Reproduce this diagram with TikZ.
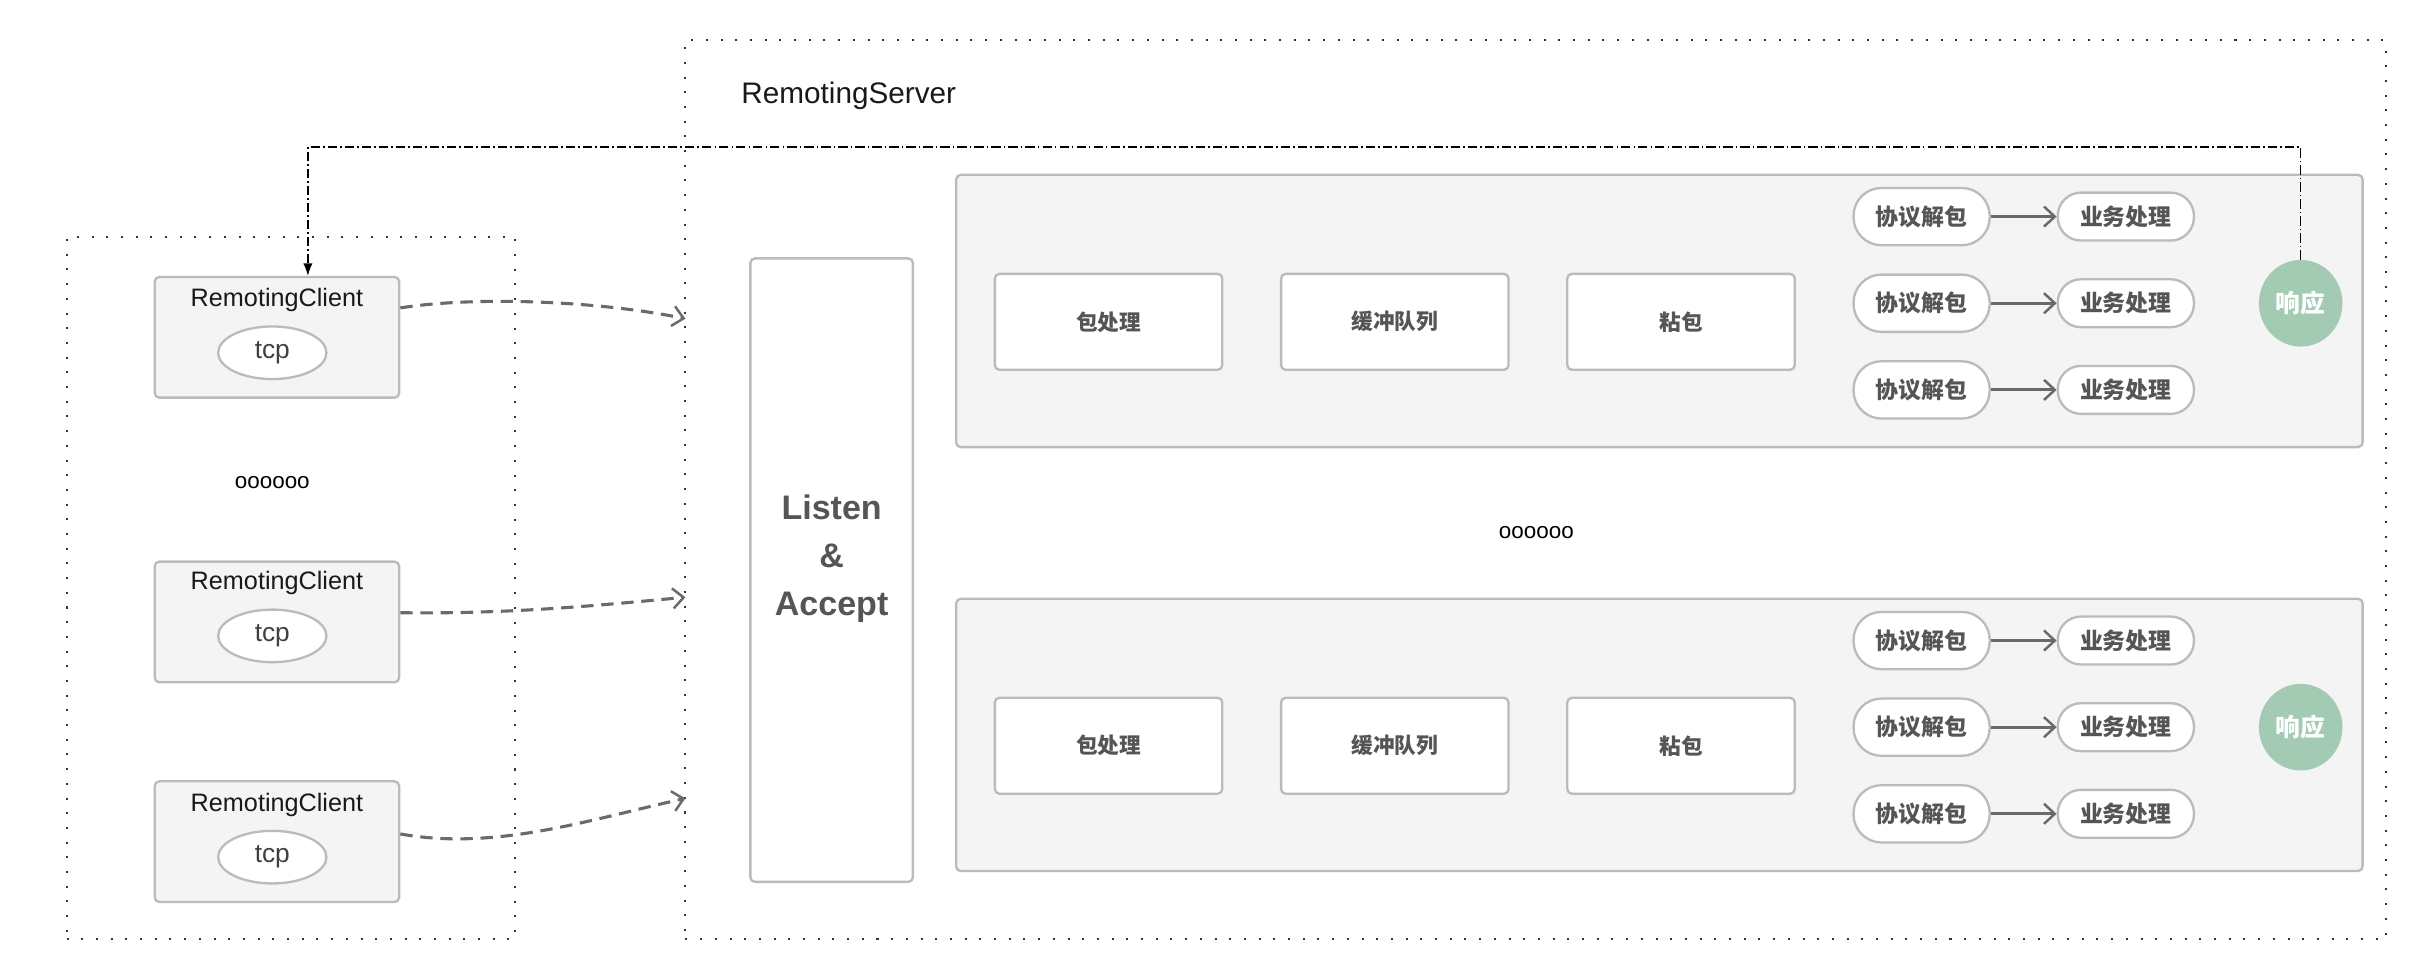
\documentclass[tikz,border=0pt]{standalone}
\usepackage{fontspec}
\setmainfont{Liberation Sans}
\newfontfamily\cjk{Noto Sans CJK SC}
\usetikzlibrary{arrows.meta,shapes.geometric,calc}
\definecolor{bordergray}{HTML}{BBBBBB}
\definecolor{panelgray}{HTML}{F4F4F4}
\definecolor{txtgray}{HTML}{555555}
\definecolor{arrowgray}{HTML}{6A6A6A}
\definecolor{respgreen}{HTML}{A3CBB3}
\definecolor{dotgray}{HTML}{333333}
\tikzset{
  dotbox/.style={draw=dotgray, line width=1.3pt, dash pattern=on 1.3pt off 8.2pt},
  clientbox/.style={draw=bordergray, fill=panelgray, line width=1.5pt, rounded corners=3pt, minimum width=158pt, minimum height=78pt},
  tcpell/.style={ellipse, draw=bordergray, fill=white, line width=1.5pt, minimum width=70pt, minimum height=34pt, inner sep=0pt, font=\fontsize{17}{18}\selectfont, text=black!75},
  clienttitle/.style={font=\fontsize{16.3}{18}\selectfont, text=black!90, inner sep=0pt},
  panel/.style={draw=bordergray, fill=panelgray, line width=1.5pt, rounded corners=3pt, minimum width=909pt, minimum height=176pt},
  stagebox/.style={draw=bordergray, fill=white, line width=1.5pt, rounded corners=3pt, minimum width=147pt, minimum height=62pt, font=\cjk\bfseries\fontsize{14}{16}\selectfont, text=txtgray},
  pilla/.style={draw=bordergray, fill=white, line width=1.5pt, rounded corners=18pt, minimum width=88pt, minimum height=37pt, inner sep=0pt, font=\cjk\bfseries\fontsize{14.8}{16}\selectfont, text=txtgray},
  pillb/.style={draw=bordergray, fill=white, line width=1.5pt, rounded corners=15pt, minimum width=88pt, minimum height=31pt, inner sep=0pt, font=\cjk\bfseries\fontsize{14.8}{16}\selectfont, text=txtgray},
  resp/.style={ellipse, fill=respgreen, minimum width=54pt, minimum height=56pt, inner sep=0pt, font=\cjk\bfseries\fontsize{16}{18}\selectfont, text=white},
  connarrow/.style={draw=arrowgray, line width=2pt, dash pattern=on 8pt off 5pt, -{Straight Barb[length=7pt,width=13pt,line width=1.6pt]}},
  innerarrow/.style={draw=arrowgray, line width=2pt, -{Straight Barb[length=7pt,width=13pt,line width=1.6pt]}},
  fbline/.style={draw=black, line width=0.8pt, dash pattern=on 6pt off 2pt on 1pt off 2pt, -{Latex[length=8pt,width=6pt]}},
  dotstext/.style={font=\fontsize{14.5}{16}\selectfont, inner sep=0pt},
}
\begin{document}
\begin{tikzpicture}[x=1pt,y=-1pt]
\useasboundingbox (0,0) rectangle (1568,631);
% outer dotted containers
\node[dotbox, minimum width=290pt, minimum height=454pt, inner sep=0pt] (clients) at (188,380) {};
\node[dotbox, minimum width=1099pt, minimum height=581pt, inner sep=0pt] (server) at (992.5,316.5) {};
\node[anchor=west, font=\fontsize{19.2}{20}\selectfont, inner sep=0pt, text=black!90] (srvtitle) at (479,62) {RemotingServer};

% clients
\node[clientbox] (c1) at (179,218) {};
\node[clientbox] (c2) at (179,402) {};
\node[clientbox] (c3) at (179,544) {};
\node[clienttitle] (c1t) at (179,194) {RemotingClient};
\node[clienttitle] (c2t) at (179,377) {RemotingClient};
\node[clienttitle] (c3t) at (179,520) {RemotingClient};
\node[tcpell] (t1) at (176,228) {tcp};
\node[tcpell] (t2) at (176,411) {tcp};
\node[tcpell] (t3) at (176,554) {tcp};
\node[dotstext] (dots1) at (176,312) {oooooo};

% listen & accept
\node[draw=bordergray, fill=white, line width=1.5pt, rounded corners=3pt, minimum width=105pt, minimum height=403pt] (la) at (537.5,368.5) {};
\node[align=center, font=\bfseries\fontsize{22}{31}\selectfont, text=txtgray] (latext) at (537.5,361) {Listen\\\&\\Accept};

% panels
\node[panel] (p1) at (1072.5,201) {};
\node[panel] (p2) at (1072.5,475) {};
\node[dotstext] (dots2) at (993,344) {oooooo};

% upper panel content
\node[stagebox] (s11) at (716.5,208) {包处理};
\node[stagebox] (s12) at (901.5,208) {缓冲队列};
\node[stagebox] (s13) at (1086.5,208) {粘包};
\node[pilla] (a11) at (1242,140) {协议解包};
\node[pilla] (a12) at (1242,196) {协议解包};
\node[pilla] (a13) at (1242,252) {协议解包};
\node[pillb] (b11) at (1374,140) {业务处理};
\node[pillb] (b12) at (1374,196) {业务处理};
\node[pillb] (b13) at (1374,252) {业务处理};
\node[resp] (r1) at (1487,196) {响应};

% lower panel content
\node[stagebox] (s21) at (716.5,482) {包处理};
\node[stagebox] (s22) at (901.5,482) {缓冲队列};
\node[stagebox] (s23) at (1086.5,482) {粘包};
\node[pilla] (a21) at (1242,414) {协议解包};
\node[pilla] (a22) at (1242,470) {协议解包};
\node[pilla] (a23) at (1242,526) {协议解包};
\node[pillb] (b21) at (1374,414) {业务处理};
\node[pillb] (b22) at (1374,470) {业务处理};
\node[pillb] (b23) at (1374,526) {业务处理};
\node[resp] (r2) at (1487,470) {响应};

% inner arrows
\foreach \i in {11,12,13,21,22,23}{
  \draw[innerarrow] (a\i.east) -- (b\i.west);
}

% client -> server arrows
\coordinate (e1) at (443,206);
\coordinate (e2) at (443,386);
\coordinate (e3) at (443,516);
\draw[connarrow] ([yshift=19pt]c1.east) .. controls (310,191) and (390,195) .. (e1);
\draw[connarrow] ([yshift=6pt]c2.east) .. controls (330,397) and (390,391) .. (e2);
\draw[connarrow] ([yshift=5pt]c3.east) .. controls (320,550) and (380,530) .. (e3);

% feedback line
\coordinate (fbc) at (199,95);
\draw[fbline] (r1.north) |- (fbc) -- ([xshift=20pt]c1.north);
\end{tikzpicture}
\end{document}
